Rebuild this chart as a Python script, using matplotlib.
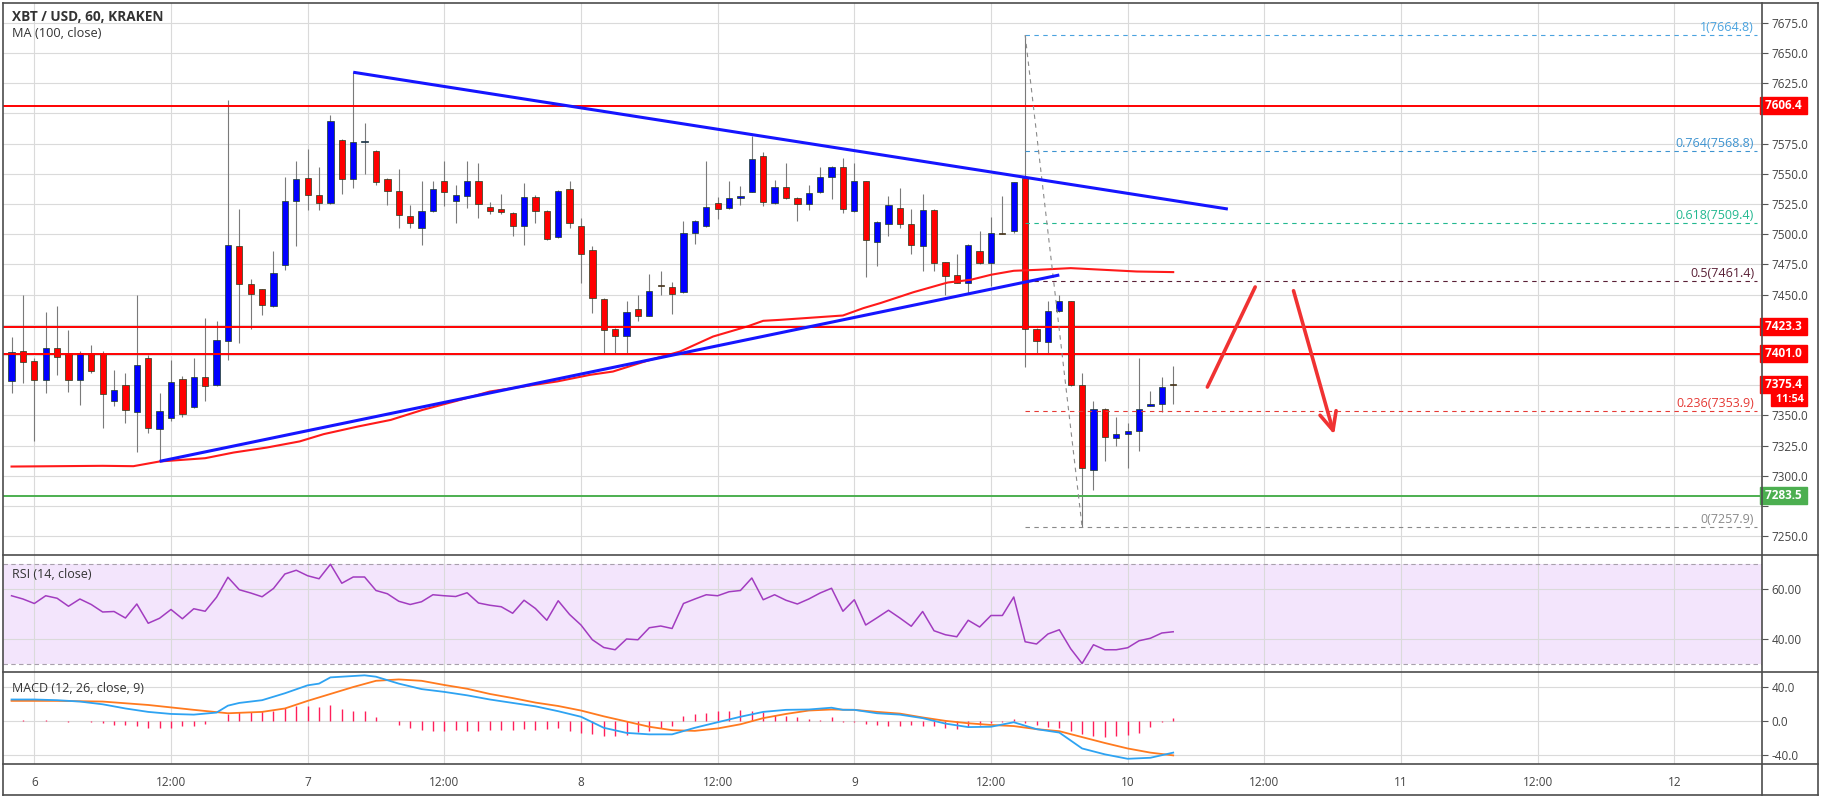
import matplotlib
matplotlib.use("Agg")
import matplotlib.pyplot as plt
from matplotlib.lines import Line2D
import numpy as np

plt.rcParams['font.family'] = ['Open Sans', 'DejaVu Sans']

# NOTE : hourly candles, first one is day 5 22:00 (hour -2 from day 6 00:00)
opens = [7378.1, 7403.5, 7395.2, 7379.4, 7405.7, 7401.5, 7379.4, 7401.5, 7400.7, 7362.1,
         7374.8, 7352.7, 7397.9, 7338.6, 7347.7, 7380.3, 7356.8, 7381.4, 7375.3, 7411.7,
         7490.4, 7458.9, 7454.8, 7440.7, 7474.6, 7527.6, 7546.6, 7532.6, 7525.7, 7578.1,
         7545.5, 7576.2, 7569.0, 7545.8, 7535.9, 7515.2, 7505.5, 7519.3, 7544.2, 7527.6,
         7531.2, 7544.2, 7522.6, 7521.0, 7517.7, 7506.9, 7530.9, 7519.3, 7497.3, 7537.5,
         7506.9, 7487.1, 7446.5, 7421.7, 7415.9, 7437.9, 7432.4, 7458.1, 7456.2, 7452.0,
         7500.8, 7506.9, 7525.7, 7521.5, 7529.8, 7535.3, 7564.9, 7525.7, 7539.2, 7529.8,
         7525.1, 7534.5, 7547.5, 7555.8, 7518.8, 7543.6, 7493.9, 7508.3, 7521.5, 7508.3,
         7489.8, 7520.2, 7476.8, 7466.4, 7460.0, 7485.7, 7476.0, 7500.8, 7502.8, 7546.4,
         7421.7, 7410.4, 7436.6, 7444.8, 7374.8, 7305.0, 7355.5, 7331.7, 7334.8, 7337.2,
         7357.9, 7359.3, 7375.6]
highs = [7414.5, 7449.8, 7397.4, 7436.0, 7440.2, 7420.8, 7403.0, 7408.4, 7403.0, 7387.7,
         7385.0, 7449.8, 7399.6, 7368.4, 7396.0, 7383.0, 7397.9, 7431.0, 7428.3, 7611.2,
         7520.7, 7462.8, 7455.0, 7485.7, 7547.7, 7560.2, 7570.4, 7555.2, 7598.8, 7579.0,
         7634.0, 7591.9, 7570.0, 7546.5, 7554.1, 7524.3, 7543.6, 7544.2, 7560.2, 7540.9,
         7560.2, 7558.8, 7526.5, 7533.1, 7518.0, 7542.2, 7532.6, 7520.0, 7536.5, 7543.6,
         7513.3, 7489.8, 7447.0, 7422.0, 7444.3, 7449.8, 7466.9, 7469.7, 7460.8, 7510.5,
         7511.5, 7560.2, 7530.4, 7543.6, 7539.5, 7580.9, 7568.4, 7545.0, 7558.8, 7531.0,
         7540.3, 7555.2, 7556.0, 7562.9, 7558.8, 7544.0, 7510.5, 7531.2, 7538.6, 7520.7,
         7533.1, 7520.5, 7477.0, 7483.5, 7491.5, 7502.8, 7513.8, 7531.2, 7543.0, 7664.8,
         7422.0, 7444.8, 7449.8, 7445.0, 7385.0, 7362.1, 7356.0, 7349.1, 7343.6, 7397.9,
         7370.3, 7382.2, 7390.5]
lows = [7368.4, 7376.7, 7329.0, 7368.4, 7383.6, 7369.8, 7358.8, 7385.0, 7339.5, 7357.4,
        7343.6, 7319.6, 7335.3, 7311.9, 7345.0, 7349.0, 7356.0, 7362.1, 7374.0, 7396.0,
        7409.8, 7421.7, 7433.3, 7440.0, 7470.5, 7489.8, 7520.2, 7520.2, 7525.0, 7533.1,
        7538.1, 7549.7, 7541.0, 7524.3, 7505.0, 7505.0, 7491.2, 7518.0, 7522.9, 7509.1,
        7521.5, 7513.3, 7516.6, 7517.0, 7498.1, 7491.2, 7509.1, 7495.5, 7497.0, 7505.0,
        7459.5, 7434.6, 7401.5, 7401.5, 7401.5, 7428.3, 7432.0, 7449.8, 7433.8, 7451.0,
        7491.7, 7506.0, 7512.7, 7521.0, 7524.3, 7535.0, 7522.9, 7525.0, 7529.0, 7511.1,
        7520.2, 7534.0, 7529.0, 7517.4, 7518.0, 7464.2, 7473.3, 7498.1, 7505.0, 7483.5,
        7469.7, 7469.7, 7449.8, 7459.5, 7451.2, 7475.5, 7457.5, 7500.0, 7500.8, 7389.7,
        7401.5, 7401.5, 7436.0, 7374.0, 7257.9, 7288.4, 7311.9, 7324.3, 7306.9, 7320.7,
        7357.5, 7353.2, 7359.3]
closes = [7402.4, 7394.6, 7379.4, 7405.7, 7398.5, 7379.4, 7401.5, 7386.9, 7367.6, 7371.2,
          7354.6, 7391.9, 7339.5, 7353.8, 7377.5, 7351.0, 7381.4, 7374.0, 7412.6, 7491.2,
          7458.9, 7450.6, 7441.5, 7467.7, 7527.6, 7545.8, 7532.6, 7525.7, 7593.8, 7545.5,
          7576.2, 7576.6, 7543.0, 7535.9, 7516.0, 7509.1, 7519.3, 7537.5, 7535.3, 7532.6,
          7544.2, 7525.1, 7519.3, 7518.0, 7506.9, 7530.9, 7519.3, 7496.2, 7535.9, 7509.1,
          7483.7, 7447.1, 7420.8, 7415.9, 7435.2, 7432.4, 7453.1, 7457.3, 7450.6, 7500.8,
          7511.1, 7522.4, 7521.0, 7529.8, 7531.7, 7562.4, 7526.5, 7539.2, 7529.8, 7525.1,
          7534.0, 7547.5, 7555.8, 7521.0, 7543.6, 7495.3, 7510.0, 7524.3, 7508.3, 7491.2,
          7520.2, 7476.0, 7465.5, 7460.0, 7491.2, 7476.0, 7500.8, 7500.3, 7542.8, 7421.7,
          7411.7, 7436.6, 7444.8, 7374.8, 7306.3, 7355.5, 7332.0, 7334.8, 7337.2, 7355.2,
          7359.6, 7373.9, 7375.4]

# NOTE : MA (100, close), x in hours
ma_hours = [-2, 6, 8.7, 11, 15, 17.5, 20.4, 23.3, 25.4, 28.4, 31.3, 34.1, 37.1, 40, 42.9,
            45.9, 48.8, 50.8, 53.8, 56.7, 59.6, 62.6, 64, 65.5, 68.4, 71, 72.8, 74.3, 77.2,
            80.2, 82.2, 84, 86, 88.1, 91, 93.9, 96.8, 100]
ma_values = [7307.7, 7308.3, 7308.0, 7311.9, 7314.6, 7319.3, 7323.4, 7328.5, 7334.5, 7340.8,
             7346.3, 7354.6, 7362.1, 7369.8, 7373.9, 7378.1, 7383.6, 7386.3, 7395.2, 7402.9,
             7415.3, 7423.6, 7428.3, 7429.1, 7431.0, 7432.7, 7438.8, 7443.0, 7452.0, 7460.0,
             7462.2, 7466.4, 7469.7, 7470.5, 7471.9, 7470.5, 7469.1, 7468.6]

rsi = [57.4, 56.1, 54.3, 57.4, 56.4, 53.2, 56.1, 53.9, 50.9, 51.1,
       48.5, 54.1, 46.4, 48.4, 51.9, 48.2, 52.2, 51.2, 56.8, 64.8,
       59.8, 58.5, 57.0, 60.3, 66.1, 67.6, 65.4, 64.2, 70.0, 62.4,
       64.9, 64.9, 59.5, 58.2, 55.2, 53.9, 55.0, 57.8, 57.4, 57.1,
       58.6, 54.5, 53.6, 53.0, 50.4, 55.6, 52.3, 47.6, 55.4, 49.9,
       45.7, 39.8, 36.7, 35.8, 40.1, 39.8, 44.6, 45.3, 44.3, 54.3,
       56.1, 57.8, 57.4, 59.0, 59.5, 64.5, 55.8, 57.8, 55.6, 54.1,
       56.1, 58.5, 60.4, 51.2, 55.8, 45.7, 48.6, 51.6, 48.5, 45.2,
       51.1, 43.4, 41.8, 41.0, 47.6, 44.9, 49.5, 49.5, 56.9, 39.0,
       38.1, 42.1, 43.8, 36.2, 30.3, 37.8, 35.8, 35.8, 36.6, 39.4,
       40.4, 42.5, 43.0]

macd_hours = [-2, 0, 2, 4, 6, 8, 10, 12, 14, 16, 17, 18, 20, 22, 24, 25, 26, 28, 29, 30,
              32, 34, 36, 38, 40, 42, 44, 46, 48, 50, 52, 54, 56, 58, 60, 62, 64, 66, 68,
              70, 71, 72, 74, 76, 78, 80, 82, 84, 86, 87, 88, 90, 91, 92, 94, 96, 98, 100]
macd_line = [25.0, 25.0, 24.2, 22.6, 19.4, 14.5, 10.5, 8.1, 7.3, 9.7, 17.8, 21.0, 24.2, 32.3,
             41.6, 43.6, 50.9, 52.5, 53.3, 51.7, 43.6, 37.2, 33.9, 29.9, 25.0, 21.0, 17.0,
             11.3, 4.8, -8.1, -14.1, -15.8, -15.8, -8.1, -1.6, 4.8, 10.5, 12.9, 13.3, 15.4,
             12.9, 12.9, 8.9, 7.3, 3.2, -3.2, -7.3, -6.9, -1.6, -5.7, -9.7, -13.7, -23.0,
             -32.3, -39.2, -44.4, -43.2, -37.2]
signal_hours = [-2, 2, 6, 10, 14, 17, 20, 22, 24, 26, 28, 30, 32, 34, 36, 38, 40, 42, 44, 46,
                48, 50, 52, 54, 56, 58, 60, 62, 64, 66, 68, 70, 72, 74, 76, 78, 80, 82, 84,
                86, 88, 90, 92, 94, 96, 98, 100]
signal_line = [23.4, 23.4, 22.6, 18.6, 12.9, 8.9, 10.5, 14.5, 23.4, 31.5, 39.6, 46.9, 48.5,
               46.9, 42.0, 37.6, 31.5, 26.7, 21.4, 17.4, 12.1, 5.3, -0.8, -6.9, -10.9, -11.7,
               -8.9, -4.0, 3.2, 8.1, 12.1, 13.3, 12.9, 10.5, 8.5, 4.0, 0.0, -2.8, -4.8, -6.1,
               -9.7, -12.1, -19.0, -25.9, -32.3, -37.2, -40.4]
macd_hist = [0.0, 1.2, 0.0, 1.2, 0.0, -0.8, 0.0, -1.6, -2.8, -4.8,
             -4.8, -5.7, -8.1, -8.1, -8.1, -6.5, -5.7, -4.0, 0.0, 8.1,
             10.5, 10.5, 11.3, 12.1, 14.5, 17.0, 17.8, 16.2, 18.2, 14.1,
             12.1, 11.3, 4.0, 0.0, -4.8, -8.1, -10.9, -12.1, -12.1, -10.9,
             -12.1, -12.1, -10.9, -10.9, -10.9, -9.7, -10.9, -9.7, -8.9, -12.1,
             -13.7, -15.0, -17.8, -17.8, -16.2, -12.9, -12.1, -8.9, -5.7, 5.3,
             8.1, 9.3, 11.3, 12.1, 13.3, 12.1, 10.5, 7.3, 5.3, 4.0,
             2.0, 1.2, 4.0, -0.8, -1.6, -4.0, -4.8, -5.7, -5.7, -4.8,
             -6.5, -5.7, -8.1, -9.7, -6.9, -4.8, -2.8, -1.6, 2.0, -2.8,
             -4.8, -6.9, -8.9, -12.1, -15.0, -17.8, -19.0, -17.8, -17.0, -13.7,
             -7.3, -0.8, 3.2]

h_levels = [7606.4, 7423.3, 7401.0]
support_level = 7283.5
fib_ratios = ["1", "0.764", "0.618", "0.5", "0.236", "0"]
fib_levels = [7664.8, 7568.8, 7509.4, 7461.4, 7353.9, 7257.9]
fib_colors = ["#4aa3df", "#3d93d0", "#22b890", "#5a2036", "#e53935", "#8a8a8a"]
upper_trend = ([28, 104.8], [7634.0, 7520.8])
lower_trend = ([11, 90], [7312.0, 7466.2])
day_ticks = list(range(0, 145, 12))
day_labels = ["6", "12:00", "7", "12:00", "8", "12:00", "9", "12:00", "10", "12:00",
              "11", "12:00", "12"]
price_ticks = list(range(7250, 7676, 25))
hidden_ticks = [7275, 7375, 7400, 7425, 7600]

W, H = 1822, 797
fig = plt.figure(figsize=(W / 100, H / 100), dpi=100)
fig.patch.set_facecolor("white")


def frame(top, bottom):
    return fig.add_axes([3 / W, 1 - bottom / H, (1762 - 3) / W, (bottom - top) / H])


ax = frame(3, 555)
ax_rsi = frame(555, 672)
ax_macd = frame(672, 764)

xmin, xmax = -2.75, 151.7
grid_c = "#dadada"
for a in (ax, ax_rsi, ax_macd):
    a.set_xlim(xmin, xmax)
    a.set_xticks(day_ticks)
    a.set_axisbelow(True)
    a.grid(True, color=grid_c, lw=0.8)
    for s in a.spines.values():
        s.set_visible(False)
    a.yaxis.tick_right()
    a.tick_params(axis="y", direction="out", length=4, width=0.8, color="#555555",
                  labelsize=8.5, labelcolor="#444444", pad=3)
    a.tick_params(axis="x", length=0, labelbottom=False)

# NOTE : candles
hours = np.arange(len(closes)) - 2
o = np.array(opens)
c = np.array(closes)
up = c >= o
col = np.where(up, "#0000ff", "#ff0000")
ax.vlines(hours, lows, highs, color="#7a7a7a", lw=0.8, zorder=2)
ax.bar(hours, np.maximum(np.abs(c - o), 0.6), bottom=np.minimum(o, c), width=0.55,
       color=col, edgecolor="#1e3d1e", linewidth=0.5, zorder=3)

ax.plot(ma_hours, ma_values, color="#ff1a1a", lw=1.5, zorder=4)
for lvl in h_levels:
    ax.axhline(lvl, color="#ff0000", lw=1.4, zorder=4)
ax.axhline(support_level, color="#4caf50", lw=1.4, zorder=4)
ax.plot(*upper_trend, color="#1515ff", lw=2.2, zorder=5, solid_capstyle="butt")
ax.plot(*lower_trend, color="#1515ff", lw=2.2, zorder=5, solid_capstyle="butt")

# NOTE : fibonacci retracement
fib_start, fib_end = 87, 151.3
for r, lvl, fc in zip(fib_ratios, fib_levels, fib_colors):
    ax.hlines(lvl, fib_start, fib_end, colors=fc, lw=0.8, linestyles=(0, (4, 4)), zorder=4)
    ax.text(151.0, lvl + 0.8, f"{r}({lvl:.1f})", color=fc, fontsize=9,
            ha="right", va="bottom", zorder=6)
ax.plot([87, 92], [fib_levels[0], fib_levels[-1]], color="#8a8a8a", lw=0.8,
        ls=(0, (4, 4)), zorder=4)

# NOTE : hand drawn arrows
arrow_c = "#f03232"
ax.plot([103.0, 107.2], [7373.5, 7456.3], color=arrow_c, lw=2.6, solid_capstyle="round",
        zorder=6)
ax.annotate("", xy=(114.2, 7332), xytext=(110.5, 7455.4),
            arrowprops=dict(arrowstyle="->,head_length=1.3,head_width=0.6", color=arrow_c,
                            lw=2.6), zorder=6)

ax.set_ylim(7234.5, 7691.3)
ax.set_yticks(price_ticks)
ax.set_yticklabels(["" if v in hidden_ticks else f"{v:.1f}" for v in price_ticks])

ax.text(0.005, 0.975, "XBT / USD, 60, KRAKEN", transform=ax.transAxes, fontsize=9.8,
        fontweight="bold", color="#333333", va="center")
ax.text(0.005, 0.944, "MA (100, close)", transform=ax.transAxes, fontsize=9.2,
        color="#333333", va="center")

# NOTE : price badges on the right axis
tr = ax.get_yaxis_transform()
badges = [(7606.4, "7606.4", "#ff0000"), (7423.3, "7423.3", "#ff0000"),
          (7401.0, "7401.0", "#ff0000"), (7375.4, "7375.4", "#ff0000"),
          (support_level, "7283.5", "#4caf50")]
for lvl, txt, bc in badges:
    ax.text(1.0, lvl, " " + txt + " ", transform=tr, fontsize=8.5, color="white",
            fontweight="bold", va="center", ha="left", clip_on=False, zorder=10,
            bbox=dict(boxstyle="square,pad=0.18", fc=bc, ec=bc))
ax.text(1.006, 7363.2, " 11:54 ", transform=tr, fontsize=7.8, color="white",
        fontweight="bold", va="center", ha="left", clip_on=False, zorder=10,
        bbox=dict(boxstyle="square,pad=0.1", fc="#ff0000", ec="#ff0000"))

# NOTE : RSI pane
ax_rsi.axhspan(30, 70, color="#f3e5fc", zorder=0, lw=0)
ax_rsi.axhline(70, color="#a8a0ac", lw=0.8, ls=(0, (4, 3)), zorder=1)
ax_rsi.axhline(30, color="#a8a0ac", lw=0.8, ls=(0, (4, 3)), zorder=1)
ax_rsi.plot(hours, rsi, color="#a23cc0", lw=1.1, zorder=3)
ax_rsi.set_ylim(26.9, 73.7)
ax_rsi.set_yticks([40, 60])
ax_rsi.set_yticklabels(["40.00", "60.00"])
ax_rsi.text(0.005, 0.83, "RSI (14, close)", transform=ax_rsi.transAxes, fontsize=9,
            color="#333333", va="center")

# NOTE : MACD pane
ax_macd.vlines(hours, 0, macd_hist, color="#ff1f5a", lw=1.0, zorder=2)
ax_macd.plot(signal_hours, signal_line, color="#ff7a1f", lw=1.3, zorder=3)
ax_macd.plot(macd_hours, macd_line, color="#2ea3f2", lw=1.3, zorder=4)
ax_macd.set_ylim(-50.5, 57.2)
ax_macd.set_yticks([-40, 0, 40])
ax_macd.set_yticklabels(["-40.0", "0.0", "40.0"])
ax_macd.text(0.005, 0.82, "MACD (12, 26, close, 9)", transform=ax_macd.transAxes,
             fontsize=9, color="#333333", va="center")
ax_macd.tick_params(axis="x", labelbottom=True, labelsize=8.5, labelcolor="#444444", pad=9)
ax_macd.set_xticklabels(day_labels)

# NOTE : frame lines
border = "#4d4d4d"


def fline(x0, y0, x1, y1, lw=1.2):
    fig.add_artist(Line2D([x0 / W, x1 / W], [1 - y0 / H, 1 - y1 / H], color=border, lw=lw,
                          transform=fig.transFigure))


fline(3, 3, 1818, 3)
fline(3, 795, 1818, 795)
fline(3, 3, 3, 795)
fline(1818, 3, 1818, 795)
fline(1762, 3, 1762, 795)
for yy in (555, 672, 764):
    fline(3, yy, 1818, yy)

fig.savefig("out.png", dpi=100)
